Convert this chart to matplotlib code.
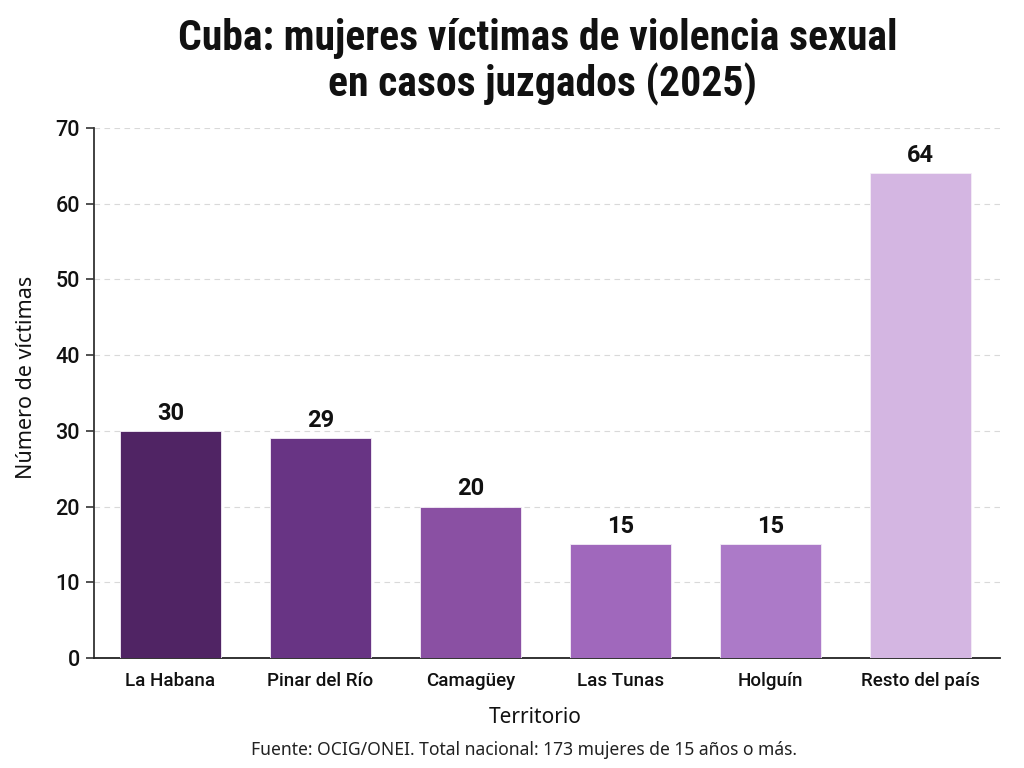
import matplotlib
matplotlib.use("Agg")
import matplotlib.pyplot as plt

territorios = ["La Habana", "Pinar del Río", "Camagüey", "Las Tunas", "Holguín", "Resto del país"]
victimas = [30, 29, 20, 15, 15, 64]
colores = ["#502464", "#683484", "#8a50a3", "#a068bc", "#ac7ac8", "#d4b6e2"]
yticks = [0, 10, 20, 30, 40, 50, 60, 70]
titulo = ["Cuba: mujeres víctimas de violencia sexual", "en casos juzgados (2025)"]
fuente = "Fuente: OCIG/ONEI. Total nacional: 173 mujeres de 15 años o más."

TITLE_FONT = ["Roboto Condensed", "DejaVu Sans"]
ROBOTO = ["Roboto", "DejaVu Sans"]
NOTO = ["Noto Sans", "DejaVu Sans"]

W, H = 1024, 768
fig = plt.figure(figsize=(W / 100, H / 100), dpi=100)
ax = fig.add_axes([94 / W, 110 / H, 906 / W, 530 / H])

x = list(range(len(territorios)))
ax.bar(x, victimas, width=0.67, color=colores, edgecolor="#f4eef7", linewidth=0.6, zorder=3)

for xi, v in zip(x, victimas):
    ax.annotate(str(v), (xi, v), xytext=(0, 8), textcoords="offset points",
                ha="center", va="baseline", fontsize=17, fontweight="bold",
                family=ROBOTO, color="#111111")

ax.set_xlim(-0.51, 5.53)
ax.set_ylim(0, 70)
ax.set_yticks(yticks, labels=[str(v) for v in yticks], fontsize=15.5,
              family=ROBOTO, fontweight="medium")
ax.set_xticks(x, labels=territorios, fontsize=13.5, family=ROBOTO, fontweight="medium")
ax.tick_params(axis="x", length=0, pad=10, colors="#111111")
ax.tick_params(axis="y", length=6, width=1.2, color="#333333", pad=4, labelcolor="#111111")

ax.grid(axis="y", linestyle=(0, (5, 4)), color="#d9d9d9", linewidth=0.8, zorder=0)
ax.set_axisbelow(True)
for s in ["top", "right"]:
    ax.spines[s].set_visible(False)
ax.spines["left"].set_color("#333333")
ax.spines["left"].set_linewidth(1.3)
ax.spines["bottom"].set_color("#222222")
ax.spines["bottom"].set_linewidth(1.3)

ax.set_ylabel("Número de víctimas", fontsize=15.5, family=NOTO, color="#111111")
ax.yaxis.set_label_coords(-0.063, 0.53)
ax.set_xlabel("Territorio", fontsize=15, family=NOTO, color="#111111")
ax.xaxis.set_label_coords(0.487, -0.092)

fig.text(538 / W, 1 - 50 / H, titulo[0], ha="center", va="baseline", fontsize=30,
         fontweight="bold", family=TITLE_FONT, color="#111111")
fig.text(542 / W, 1 - 96 / H, titulo[1], ha="center", va="baseline", fontsize=30,
         fontweight="bold", family=TITLE_FONT, color="#111111")
fig.text(524 / W, 1 - 750 / H, fuente, ha="center", va="center", fontsize=12.6,
         family=NOTO, color="#222222")

fig.savefig("out.png", dpi=100, facecolor="white")
